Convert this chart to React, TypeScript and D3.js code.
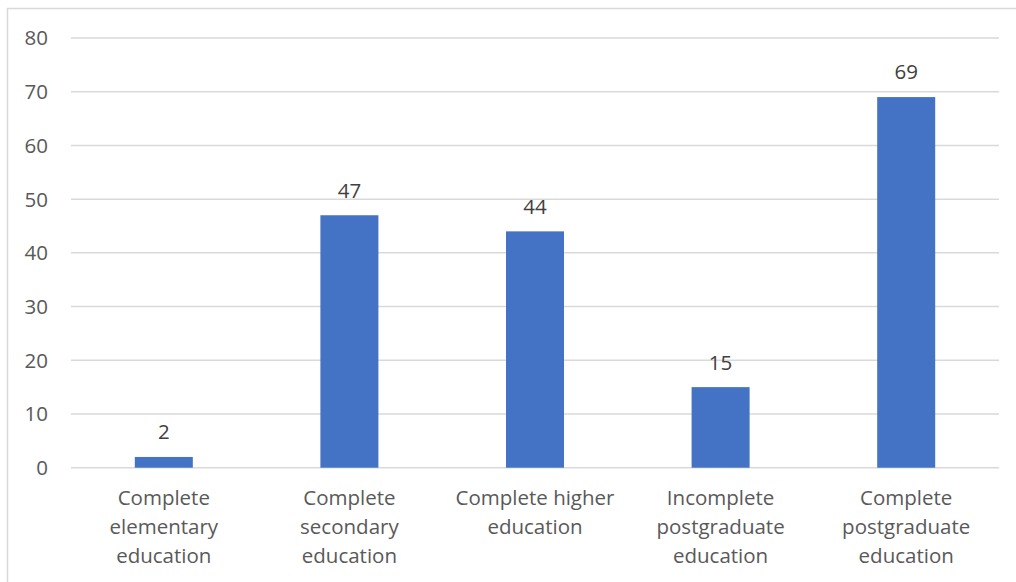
import React from "react";
import * as d3 from "d3";

const categories: string[][] = [
  ["Complete", "elementary", "education"],
  ["Complete", "secondary", "education"],
  ["Complete higher", "education"],
  ["Incomplete", "postgraduate", "education"],
  ["Complete", "postgraduate", "education"],
];
const values: number[] = [2, 47, 44, 15, 69];
const yTicks: number[] = [0, 10, 20, 30, 40, 50, 60, 70, 80];

const W = 1016;
const H = 582;
const plot = { left: 71, right: 999, top: 38, bottom: 467.7 };
const FONT = "'Open Sans', 'DejaVu Sans', sans-serif";
const FS = 20.5;

export default function App() {
  const keys = categories.map((_, i) => String(i));
  const x = d3
    .scaleBand<string>()
    .domain(keys)
    .range([plot.left, plot.right])
    .paddingInner(0)
    .paddingOuter(0);
  const y = d3.scaleLinear().domain([0, 80]).range([plot.bottom, plot.top]);
  const barW = x.bandwidth() / 3.2;

  return (
    <svg
      width={W}
      height={H}
      style={{ position: "absolute", left: 0, top: 0, background: "#fff" }}
      fontFamily={FONT}
    >
      <rect x={7.5} y={8.5} width={1040} height={620} fill="none" stroke="#d9d9d9" strokeWidth={1.5} />
      {yTicks.map((t) => (
        <g key={t}>
          <line x1={plot.left} x2={plot.right} y1={y(t)} y2={y(t)} stroke="#d9d9d9" strokeWidth={1.5} />
          <text x={48} y={y(t)} dy="0.36em" textAnchor="end" fontSize={FS} fill="#595959">
            {t}
          </text>
        </g>
      ))}
      {values.map((v, i) => {
        const cx = (x(String(i)) as number) + x.bandwidth() / 2;
        return (
          <g key={i}>
            <rect x={cx - barW / 2} y={y(v)} width={barW} height={y(0) - y(v)} fill="#4472C4" />
            <text x={cx} y={y(v) - 25} dy="0.36em" textAnchor="middle" fontSize={FS} fill="#404040">
              {v}
            </text>
            <text textAnchor="middle" fontSize={FS} fill="#595959">
              {categories[i].map((line, j) => (
                <tspan key={j} x={cx} y={498 + j * 29} dy="0.36em">
                  {line}
                </tspan>
              ))}
            </text>
          </g>
        );
      })}
    </svg>
  );
}
